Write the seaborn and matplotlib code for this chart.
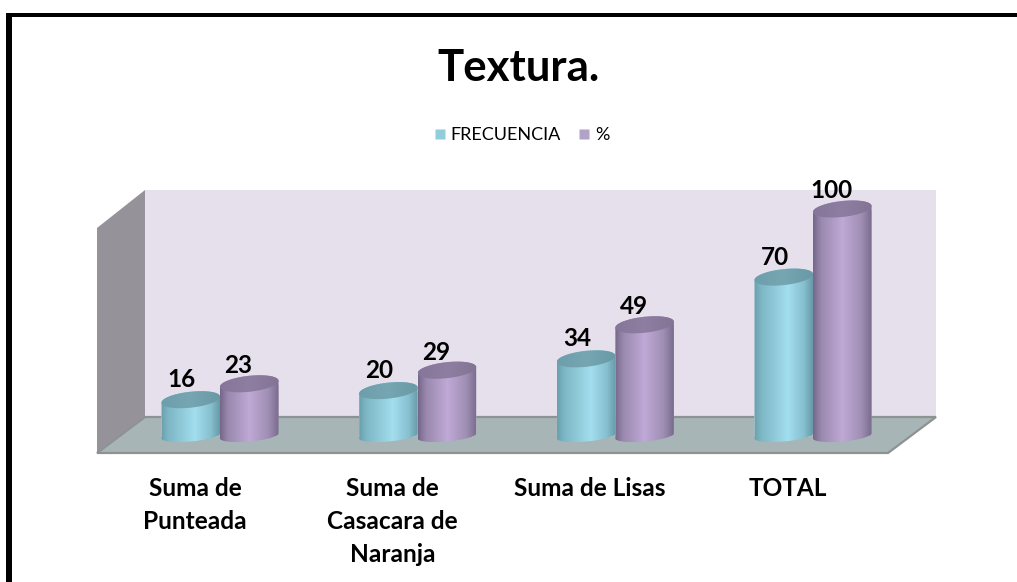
import numpy as np
import pandas as pd
import matplotlib
matplotlib.use("Agg")
import matplotlib.pyplot as plt
import seaborn as sns
from matplotlib.colors import LinearSegmentedColormap
from matplotlib.lines import Line2D
from matplotlib.patches import Polygon, Rectangle
from matplotlib.path import Path

categories = ["Suma de\nPunteada", "Suma de\nCasacara de\nNaranja", "Suma de Lisas", "TOTAL"]
frecuencia = [16, 20, 34, 70]
porcentaje = [23, 29, 49, 100]
series_names = ["FRECUENCIA", "%"]
title_text = "Textura."

W, H = 1017, 582
sns.set_theme(style="white")
plt.rcParams["font.family"] = ["Lato", "DejaVu Sans"]

fig = plt.figure(figsize=(W / 100, H / 100), dpi=100, facecolor="white")

# background in pixel coordinates: frame and the 3D box
bg = fig.add_axes([0, 0, 1, 1])
bg.set_xlim(0, W)
bg.set_ylim(H, 0)
bg.axis("off")
bg.add_patch(Rectangle((6, 13), W - 6, 3.5, fc="black", ec="none"))
bg.add_patch(Rectangle((6, 16.5), W - 6, 0.9, fc="#c8c8c8", ec="none"))
bg.add_patch(Rectangle((6, 13), 6, H - 13, fc="black", ec="none"))
bg.add_patch(Polygon([(145, 190), (936, 190), (936, 417), (145, 417)], fc="#e6dfec", ec="none"))
bg.add_patch(Polygon([(97, 228), (145, 190), (145, 417), (97, 453)], fc="#96929a", ec="none"))
bg.add_patch(Polygon([(97, 453), (145, 417), (936, 417), (888, 453)], fc="#a7b5b7", ec="#8e9292", lw=1.6))

# data axes: value 0 at pixel 436, 2.27 px per unit; groups 197.7 px apart from pixel 220
PX_PER_UNIT = 2.27
ax_top, ax_bottom = 190, 453
x0, pitch = 220, 197.67
ax_left, ax_right = x0 - pitch / 2, x0 + 3.5 * pitch
ax = fig.add_axes([ax_left / W, 1 - ax_bottom / H, (ax_right - ax_left) / W, (ax_bottom - ax_top) / H])
ax.patch.set_alpha(0)

df = pd.DataFrame({
    "categoria": categories * 2,
    "serie": [series_names[0]] * 4 + [series_names[1]] * 4,
    "valor": frecuencia + porcentaje,
})
flat = ["#8fc5d3", "#a594b8"]
sns.barplot(data=df, x="categoria", y="valor", hue="serie", hue_order=series_names,
            palette=flat, order=categories, width=0.592, gap=0, legend=False,
            saturation=1, ax=ax)

ylim = ((436 - ax_bottom) / PX_PER_UNIT, (436 - ax_top) / PX_PER_UNIT)
xlim = (-0.5, 3.5)

cmaps = [
    LinearSegmentedColormap.from_list("b", [(0, "#6a9fac"), (0.12, "#7db6c4"), (0.58, "#a3deef"), (0.85, "#86bfce"), (1, "#679aa8")]),
    LinearSegmentedColormap.from_list("p", [(0, "#74678a"), (0.14, "#9a89ae"), (0.5, "#bfa9d6"), (0.82, "#a08fb4"), (1, "#786b8e")]),
]
top_colors = [
    LinearSegmentedColormap.from_list("bt", ["#6d9eab", "#76a6b2", "#6a99a6"]),
    LinearSegmentedColormap.from_list("pt", ["#85769a", "#8e7ea1", "#837495"]),
]
label_offsets = [(-9, 20), (-11, 18)]


def rim(xc, w, y, b, tilt, t):
    return np.column_stack([xc + w * np.cos(t), y + (tilt * np.cos(t) + b * np.sin(t)) / PX_PER_UNIT])


for s, cont in enumerate(ax.containers):
    z = 2 + s
    for bar in cont:
        xc = bar.get_x() + bar.get_width() / 2
        w = bar.get_width() / 2
        val = bar.get_height()
        lower = rim(xc, w, 0, 5.5, 2.5, np.linspace(np.pi, 2 * np.pi, 40))
        upper = rim(xc, w, val, 8, 3, np.linspace(0, np.pi, 40))
        body = Path(np.vstack([lower, upper, lower[:1]]), closed=True)
        bar.set_zorder(z)
        bar.set_clip_path(body, ax.transData)
        grad = np.linspace(0, 1, 256).reshape(1, -1)
        im = ax.imshow(grad, cmap=cmaps[s], aspect="auto", zorder=z + 0.1, interpolation="bilinear",
                       extent=(xc - w, xc + w, -5, val + 5))
        im.set_clip_path(body, ax.transData)
        cap = Path(rim(xc, w, val, 8, 3, np.linspace(0, 2 * np.pi, 80)), closed=True)
        imc = ax.imshow(grad, cmap=top_colors[s], aspect="auto", zorder=z + 0.2, interpolation="bilinear",
                        extent=(xc - w, xc + w, val - 6, val + 6))
        imc.set_clip_path(cap, ax.transData)
        ax.annotate(f"{val:.0f}", (xc, val), xytext=label_offsets[s], textcoords="offset pixels",
                    ha="center", va="center", fontsize=17.5, fontweight="bold", color="black", zorder=10)

ax.set_xlim(xlim)
ax.set_ylim(ylim)
ax.set_xlabel("")
ax.set_ylabel("")
ax.set_yticks([])
ax.set_xticks(np.arange(4) - 0.127, categories)
ax.tick_params(axis="x", length=0, pad=17.5)
for lab in ax.get_xticklabels():
    lab.set_fontsize(17.6)
    lab.set_fontweight("bold")
    lab.set_color("black")
    lab.set_linespacing(1.53)
    lab.set_verticalalignment("top")
sns.despine(ax=ax, left=True, bottom=True)

fig.text(518 / W, 1 - 68 / H, title_text, ha="center", va="center", fontsize=31.5, fontweight="bold", color="black")

handles = [Line2D([], [], ls="none", marker="s", ms=7.8, mfc=c, mec="none") for c in ["#92cddc", "#b2a2c7"]]
fig.legend(handles, series_names, loc="center", bbox_to_anchor=(520 / W, 1 - 135 / H), ncol=2, frameon=False,
           fontsize=13, handletextpad=0.1, columnspacing=0.8, handlelength=1.0, labelcolor="black")

fig.savefig("out.png", dpi=100, facecolor="white")
